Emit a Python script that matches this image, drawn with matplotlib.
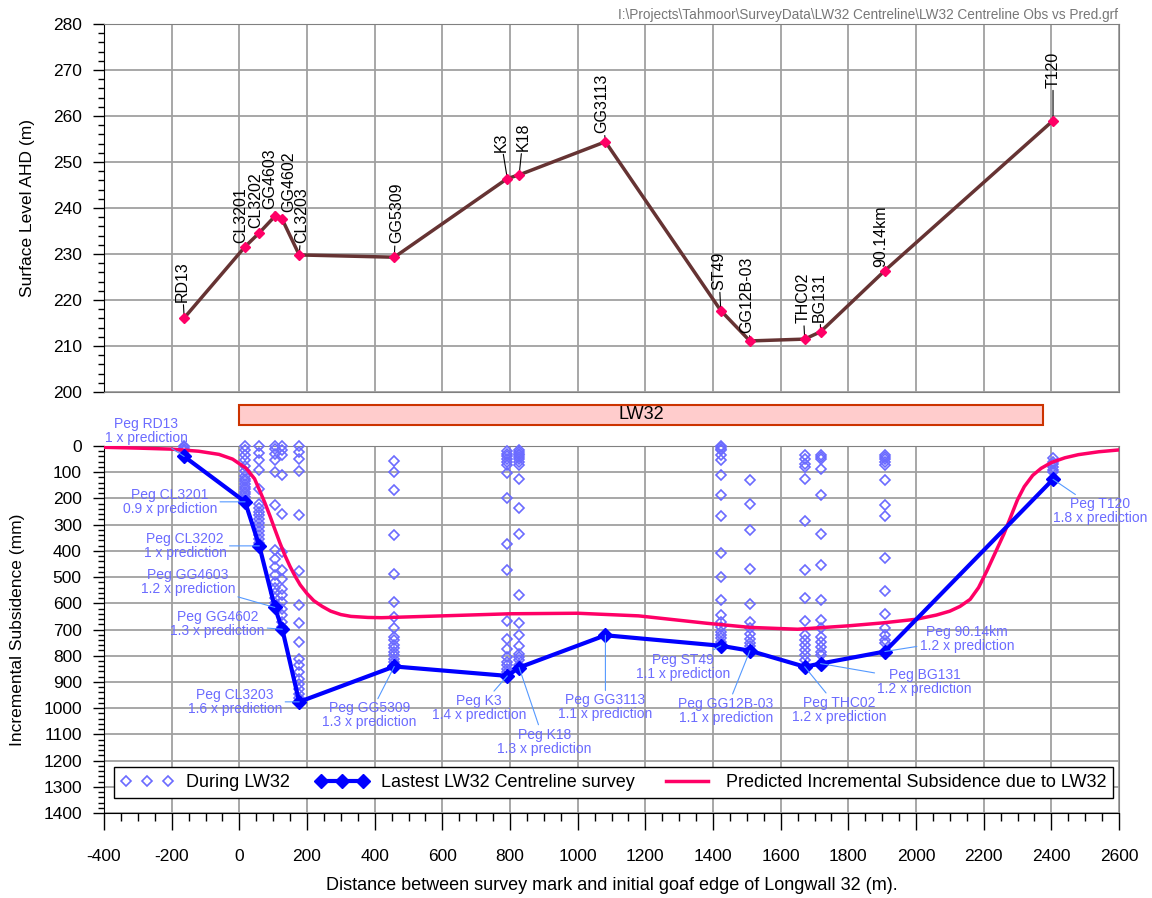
import matplotlib
matplotlib.use("Agg")
import matplotlib.pyplot as plt
import matplotlib.transforms as mtransforms
from matplotlib.patches import Rectangle
from matplotlib.ticker import MultipleLocator

plt.rcParams['font.family'] = ['Liberation Sans', 'DejaVu Sans']
plt.rcParams['axes.unicode_minus'] = False

# survey marks along the LW32 centreline
marks = ["RD13", "CL3201", "CL3202", "GG4603", "GG4602", "CL3203", "GG5309", "K3", "K18",
         "GG3113", "ST49", "GG12B-03", "THC02", "BG131", "90.14km", "T120"]
dist = [-163, 17, 59, 105, 127, 177, 458, 792, 827, 1082, 1423, 1509, 1671, 1718, 1908, 2405]
level = [216.1, 231.6, 234.6, 238.2, 237.5, 229.8, 229.3, 246.4, 247.2, 254.4,
         217.7, 211.1, 211.5, 213.1, 226.4, 259.0]
latest = [40, 213, 381, 616, 699, 976, 841, 877, 845, 722, 762, 781, 842, 830, 784, 127]
ratio = ["1", "0.9", "1", "1.2", "1.3", "1.6", "1.3", "1.4", "1.3", "1.1",
         "1.1", "1.1", "1.2", "1.2", "1.2", "1.8"]

# surveys during LW32 (mm), one list per mark
during = [
    [0, 5, 10, 15, 20],
    [0, 15, 35, 55, 75, 95, 115, 125, 135, 145, 155, 165, 175, 185, 195, 205],
    [0, 25, 55, 93, 163, 220, 235, 250, 265, 280, 295, 310, 325, 340, 355, 370],
    [0, 10, 29, 55, 99, 226, 398, 430, 461, 493, 520, 540, 560, 580, 600, 610],
    [0, 17, 36, 112, 258, 405, 474, 506, 545, 570, 595, 620, 645, 670, 690],
    [0, 23, 51, 97, 264, 478, 608, 674, 748, 811, 837, 862, 888, 907, 926, 945, 960],
    [58, 99, 166, 341, 490, 595, 652, 696, 728, 741, 760, 772, 785, 798, 811, 824],
    [20, 29, 38, 48, 61, 74, 102, 197, 372, 474, 668, 737, 773, 804, 824, 836, 849, 862],
    [17, 23, 29, 36, 42, 51, 61, 74, 125, 236, 337, 567, 675, 722, 762, 792, 804, 817, 836],
    [],
    [0, 5, 10, 15, 36, 55, 109, 186, 268, 410, 499, 588, 646, 671, 690, 709, 722, 734, 747],
    [128, 220, 321, 468, 601, 671, 696, 719, 737, 750, 762],
    [33, 51, 67, 80, 127, 287, 474, 578, 668, 722, 741, 760, 779, 798, 817],
    [36, 42, 48, 86, 186, 337, 455, 588, 665, 696, 728, 747, 766, 785, 798],
    [33, 42, 51, 61, 71, 128, 226, 268, 427, 554, 639, 694, 722, 741, 753],
    [47, 60, 70, 80, 90, 100],
]

# predicted incremental subsidence due to LW32
pred_x = [-400, -300, -200, -120, -60, -20, 20, 45, 60, 75, 90, 105, 120, 135, 150, 165,
          180, 200, 220, 245, 270, 300, 330, 380, 420, 600, 800, 1000, 1180, 1380, 1510,
          1650, 1800, 1900, 2000, 2060, 2100, 2130, 2160, 2185, 2210, 2235, 2260, 2280,
          2300, 2320, 2345, 2370, 2400, 2440, 2480, 2540, 2600]
pred_mm = [5, 8, 12, 20, 32, 50, 85, 125, 170, 215, 265, 318, 370, 418, 460, 497,
           530, 563, 590, 612, 630, 643, 650, 654, 655, 648, 640, 638, 648, 676, 692,
           699, 686, 675, 661, 645, 630, 612, 585, 540, 475, 405, 335, 270,
           205, 155, 112, 85, 63, 45, 33, 22, 15]

# label layout (pixel offsets from each mark)
top_off = [(-2, 16), (-4, 4), (-4, 5), (-5, 7), (6, 7), (3, 12), (2, 14), (-6, 27), (4, 24),
           (-4, 9), (-2, 21), (-3, 8), (-2, 16), (-1, 10), (-4, 4), (0, 33)]
bot_off = [(-38, 25), (-75, 0), (-74, 0), (-87, 25), (-65, 5), (-64, 0), (-25, -49), (-28, -32),
           (25, -74), (0, -72), (-38, -21), (-24, -60), (35, -43), (104, -18), (82, 13), (47, -32)]

grid_col = "#a0a0a0"
peg_col = "#6b6bff"

fig = plt.figure(figsize=(11.52, 8.98), dpi=100)
ax1 = fig.add_axes([104 / 1152, 1 - 392 / 898, 1015 / 1152, 368 / 898])
ax2 = fig.add_axes([104 / 1152, 1 - 813 / 898, 1015 / 1152, 367 / 898])

# ---- surface level profile
ax1.plot(dist, level, color="#663333", lw=2.5, zorder=3)
ax1.plot(dist, level, ls="none", marker="D", ms=5, color="#ff0066", zorder=4)
for name, x, y, (dx, dy) in zip(marks, dist, level, top_off):
    ax1.annotate(name, (x, y), xytext=(dx, dy), textcoords="offset pixels",
                 rotation=90, ha="center", va="bottom", fontsize=11.5,
                 arrowprops=dict(arrowstyle="-", color="black", lw=0.8,
                                 shrinkA=0, shrinkB=0))
ax1.set_xlim(-400, 2600)
ax1.set_ylim(200, 280)
ax1.xaxis.set_major_locator(MultipleLocator(200))
ax1.yaxis.set_major_locator(MultipleLocator(10))
ax1.yaxis.set_minor_locator(MultipleLocator(2))
ax1.tick_params(axis="x", bottom=False, labelbottom=False)
ax1.tick_params(axis="y", which="major", length=8, width=1, labelsize=12.5, pad=8)
ax1.tick_params(axis="y", which="minor", length=4, width=1)
ax1.grid(True, color=grid_col, lw=1.3)
ax1.set_axisbelow(True)
ax1.set_ylabel("Surface Level AHD (m)", fontsize=12.5)
ax1.yaxis.set_label_coords(-0.068, 0.5)
for s in ax1.spines.values():
    s.set_color("#808080")
ax1.spines["left"].set_color("black")

# ---- incremental subsidence
for i, (x, vals) in enumerate(zip(dist, during)):
    ax2.plot([x] * len(vals), vals, ls="none", marker="D", ms=5, mfc="none",
             mec=peg_col, mew=1.2, clip_on=False, zorder=3,
             label="During LW32" if i == 0 else None)
ax2.plot(pred_x, pred_mm, color="#ff0066", lw=2.5, zorder=4,
         label="Predicted Incremental Subsidence due to LW32")
ax2.plot(dist, latest, color="#0000ff", lw=3, marker="D", ms=7, zorder=5,
         label="Lastest LW32 Centreline survey")
for name, x, y, r, (dx, dy) in zip(marks, dist, latest, ratio, bot_off):
    ax2.annotate(f"Peg {name}\n{r} x prediction", (x, y), xytext=(dx, dy),
                 textcoords="offset pixels", ha="center", va="center",
                 fontsize=10, color=peg_col, linespacing=1.0, zorder=6,
                 arrowprops=dict(arrowstyle="-", color="#5599ff", lw=0.8,
                                 shrinkA=0, shrinkB=0))
ax2.set_xlim(-400, 2600)
ax2.set_ylim(1400, 0)
ax2.xaxis.set_major_locator(MultipleLocator(200))
ax2.xaxis.set_minor_locator(MultipleLocator(50))
ax2.yaxis.set_major_locator(MultipleLocator(100))
ax2.yaxis.set_minor_locator(MultipleLocator(20))
ax2.tick_params(axis="x", which="major", length=12, width=1, labelsize=12.5, pad=14)
ax2.tick_params(axis="x", which="minor", length=6, width=1)
ax2.tick_params(axis="y", which="major", length=8, width=1, labelsize=12.5, pad=8)
ax2.tick_params(axis="y", which="minor", length=4, width=1)
ax2.grid(True, color=grid_col, lw=1.3)
ax2.set_axisbelow(True)
ax2.set_ylabel("Incremental Subsidence (mm)", fontsize=12.5)
ax2.yaxis.set_label_coords(-0.078, 0.5)
ax2.set_xlabel("Distance between survey mark and initial goaf edge of Longwall 32 (m).",
               fontsize=13)
ax2.xaxis.set_label_coords(0.5, -0.175)
for s in ax2.spines.values():
    s.set_color("#808080")
ax2.spines["left"].set_color("black")
ax2.spines["bottom"].set_color("black")

handles, labels = ax2.get_legend_handles_labels()
order = [labels.index("During LW32"), labels.index("Lastest LW32 Centreline survey"),
         labels.index("Predicted Incremental Subsidence due to LW32")]
leg = ax2.legend([handles[k] for k in order], [labels[k] for k in order],
                 loc="lower center", bbox_to_anchor=(0.502, 0.015), ncol=3,
                 numpoints=3, fontsize=13, handlelength=2.9, columnspacing=1.45,
                 handletextpad=0.7, fancybox=False, framealpha=1, borderpad=0.4)
leg.get_frame().set_edgecolor("black")
leg.get_frame().set_linewidth(1.0)
leg.set_zorder(10)

# LW32 panel extent bar between the two plots
trans = mtransforms.blended_transform_factory(ax2.transData, ax2.transAxes)
ax2.add_patch(Rectangle((0, 1.057), 2374, 0.055, transform=trans, clip_on=False,
                        facecolor="#ffcccc", edgecolor="#cc3300", lw=1.5))
ax2.text(1187, 1.085, "LW32", transform=trans, ha="center", va="center", fontsize=13)

fig.text(1118 / 1152, 1 - 15 / 898,
         r"I:\Projects\Tahmoor\SurveyData\LW32 Centreline\LW32 Centreline Obs vs Pred.grf",
         ha="right", va="center", fontsize=9.8, color="#777777")

fig.savefig("out.png", dpi=100)
